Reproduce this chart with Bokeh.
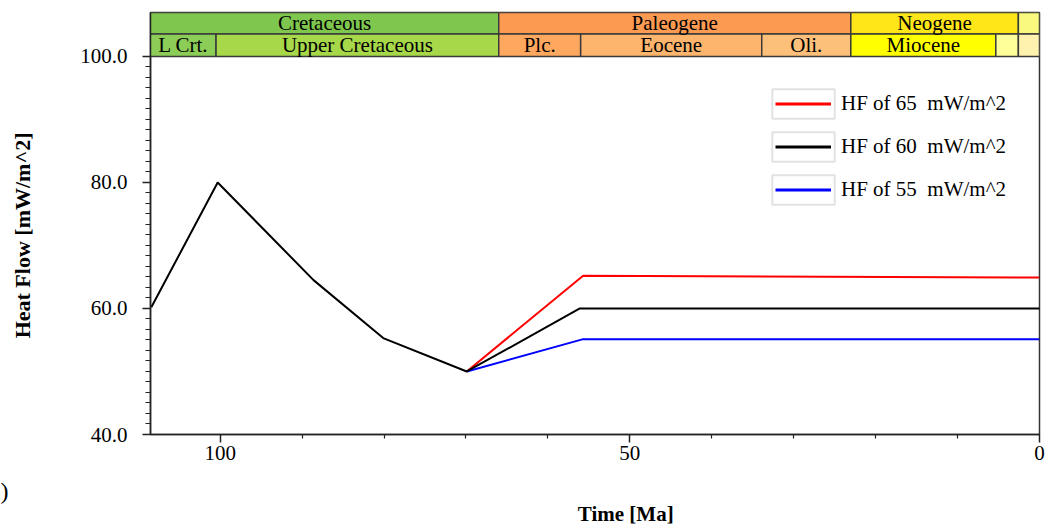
import math
from bokeh.plotting import figure
from bokeh.models import (Range1d, FixedTicker, PrintfTickFormatter, Legend,
                          LegendItem, Label)
from bokeh.core.properties import value
from bokeh.embed import file_html
from bokeh.resources import INLINE

# ---------------- data ----------------
black_time = [108.4, 100.3, 88.6, 80.1, 69.9, 56.1, 0.0]
black_hf = [60.2, 80.0, 64.5, 55.3, 50.0, 60.0, 60.0]
red_time = [69.9, 55.7, 0.0]
red_hf = [50.0, 65.2, 64.9]
blue_time = [69.9, 55.8, 0.0]
blue_hf = [50.0, 55.1, 55.1]
legend_labels = ["HF of 65  mW/m^2", "HF of 60  mW/m^2", "HF of 55  mW/m^2"]
line_colors = ["#FF0000", "#000000", "#0000FF"]

period_names = ["Cretaceous", "Paleogene", "Neogene", ""]
period_start = [145.0, 66.0, 23.03, 2.58]
period_end = [66.0, 23.03, 2.58, 0.0]
period_colors = ["#7FC64E", "#FD9A52", "#FFE619", "#F9F97F"]

epoch_names = ["L Crt.", "Upper Cretaceous", "Plc.", "Eocene", "Oli.", "Miocene", "", ""]
epoch_start = [145.0, 100.5, 66.0, 56.0, 33.9, 23.03, 5.333, 2.58]
epoch_end = [100.5, 66.0, 56.0, 33.9, 23.03, 5.333, 2.58, 0.0]
epoch_colors = ["#8CCD57", "#A6D84A", "#FDA75F", "#FDB46C", "#FDC07A",
                "#FFFF00", "#FFFF99", "#FFF2AE"]

x_ticks = [100, 50, 0]
x_minor = [90, 80, 70, 60, 40, 30, 20, 10]
y_ticks = [40, 60, 80, 100]

# ---------------- layout constants ----------------
T_MAX = 108.5
Y_MIN, Y_TOP = 40.0, 106.98
ROW_SPLIT = 103.57
SERIF = "Liberation Serif"

p = figure(width=1046, height=526,
           x_range=Range1d(T_MAX, 0), y_range=Range1d(Y_MIN, Y_TOP),
           min_border_left=150, min_border_right=7,
           min_border_top=12, min_border_bottom=92,
           toolbar_location=None, output_backend="svg")
p.grid.visible = False
p.background_fill_color = "white"
p.border_fill_color = "white"
p.outline_line_color = "#333333"
p.outline_line_width = 1.5

# ---------------- geologic time bar ----------------
p.quad(left=period_start, right=period_end, bottom=ROW_SPLIT, top=Y_TOP,
       fill_color=period_colors, line_color="#3a3a3a", line_width=1.5)
p.quad(left=epoch_start, right=epoch_end, bottom=100.0, top=ROW_SPLIT,
       fill_color=epoch_colors, line_color="#3a3a3a", line_width=1.5)

def centers(names, starts, ends):
    xs, ts = [], []
    for n, s, e in zip(names, starts, ends):
        if n:
            xs.append((min(s, T_MAX) + e) / 2.0)
            ts.append(n)
    return xs, ts

px, pt = centers(period_names, period_start, period_end)
ex, et = centers(epoch_names, epoch_start, epoch_end)
p.text(x=px, y=[(ROW_SPLIT + Y_TOP) / 2] * len(px), text=pt,
       text_font=value(SERIF), text_font_size="21px", text_align="center",
       text_baseline="middle", text_color="black")
p.text(x=ex, y=[(ROW_SPLIT + 100.0) / 2] * len(ex), text=et,
       text_font=value(SERIF), text_font_size="21px", text_align="center",
       text_baseline="middle", text_color="black")

# ---------------- data lines ----------------
p.line(red_time, red_hf, line_color=line_colors[0], line_width=2)
p.line(blue_time, blue_hf, line_color=line_colors[2], line_width=2)
p.line(black_time, black_hf, line_color=line_colors[1], line_width=2)

# ---------------- axes ----------------
y_minor = [Y_MIN + k * 5.0 / 3.0 for k in range(1, 36) if k % 12 != 0]
p.xaxis.ticker = FixedTicker(ticks=x_ticks, minor_ticks=x_minor)
p.yaxis.ticker = FixedTicker(ticks=y_ticks, minor_ticks=y_minor)
p.xaxis.formatter = PrintfTickFormatter(format="%d")
p.yaxis.formatter = PrintfTickFormatter(format="%.1f")
for ax in (p.xaxis[0], p.yaxis[0]):
    ax.axis_line_color = "#222222"
    ax.axis_line_width = 1.5
    ax.major_tick_line_color = "#222222"
    ax.minor_tick_line_color = "#222222"
    ax.major_tick_line_width = 1.5
    ax.minor_tick_line_width = 1.2
    ax.major_tick_in = 0
    ax.minor_tick_in = 0
    ax.major_tick_out = 8
    ax.major_label_text_font = SERIF
    ax.major_label_text_font_size = "21px"
    ax.major_label_text_color = "black"
p.xaxis.minor_tick_out = 4
p.yaxis.minor_tick_out = 5
p.xaxis.major_label_standoff = 3
p.yaxis.major_label_standoff = 15

# axis titles, placed in the side panels (not clipped to the frame)
p.add_layout(Label(x=124.1, y=71.6, x_units="data", y_units="data",
                   angle=math.pi / 2, text="Heat Flow [mW/m^2]", text_font=SERIF,
                   text_font_size="22px", text_font_style="bold",
                   text_align="center", text_baseline="middle",
                   text_color="black"), "left")
p.add_layout(Label(x=50.5, y=27.46, x_units="data", y_units="data",
                   text="Time [Ma]", text_font=SERIF, text_font_size="21px",
                   text_font_style="bold", text_align="center",
                   text_baseline="middle", text_color="black"), "below")
p.add_layout(Label(x=126.8, y=31.1, x_units="data", y_units="data",
                   text=")", text_font=SERIF, text_font_size="24px",
                   text_align="left", text_baseline="middle", text_color="black"), "below")

# ---------------- legend (proxy renderers lie outside the visible ranges) ----------------
box_r = p.quad(left=[-1], right=[-2], bottom=[0], top=[1], fill_color="white",
               line_color="#e2e2e2", line_width=2)
leg_lines = [p.line(x=[-1, -2], y=[0, 0], line_color=c, line_width=3) for c in line_colors]

common = dict(padding=0, margin=0, border_line_color=None,
              background_fill_alpha=0, spacing=6, glyph_height=37,
              label_height=37)
legend_boxes = Legend(items=[LegendItem(label=" ", renderers=[box_r]) for _ in line_colors],
                      location=(614.2, 226.5), glyph_width=78,
                      label_text_font_size="1px", **common)
legend_main = Legend(items=[LegendItem(label=l, renderers=[r])
                            for l, r in zip(legend_labels, leg_lines)],
                     location=(625, 226.5), glyph_width=56, label_standoff=10,
                     label_text_font=SERIF, label_text_font_size="21px",
                     label_text_color="black", **common)
p.add_layout(legend_boxes)
p.add_layout(legend_main)

open("out.html", "w").write(file_html(p, INLINE))
